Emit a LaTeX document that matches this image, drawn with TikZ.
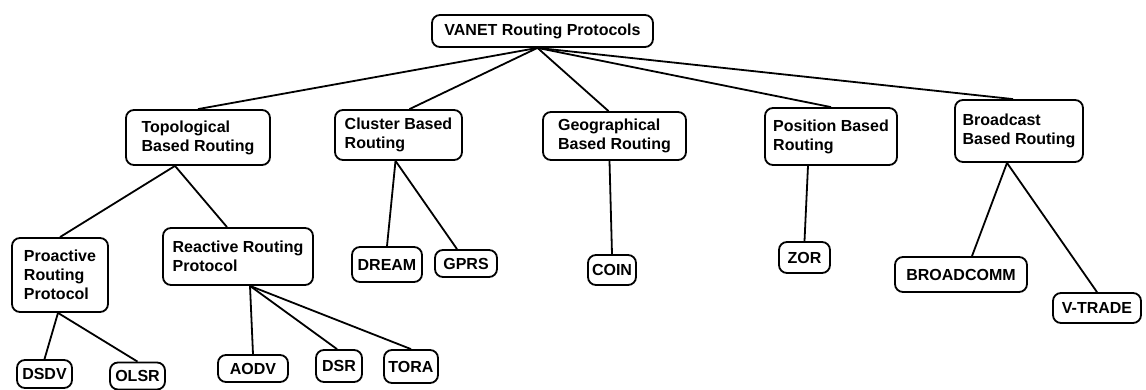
\documentclass[tikz,border=0pt]{standalone}
\usepackage{fontspec}
\setmainfont{Liberation Sans}
\usepackage{tikz}
\usetikzlibrary{positioning}

\tikzset{
    box/.style={draw, rounded corners=8pt, line width=1.8pt, inner sep=2pt,
        align=left, font=\fontsize{16}{19}\selectfont\bfseries},
    link/.style={line width=1.8pt}
}

\begin{document}
\begin{tikzpicture}[x=1pt, y=-1pt]
    \useasboundingbox (0,0) rectangle (1146,390);
    % top level
    \node (root) at (542.5,31) [box, minimum width=221, minimum height=32] {VANET Routing Protocols};
    \node (topo) at (198,137.5) [box, minimum width=144, minimum height=55] {Topological\\Based Routing};
    \node (clus) at (398.5,135) [box, minimum width=127, minimum height=50] {Cluster Based\\Routing};
    \node (geo) at (614.5,136) [box, minimum width=143, minimum height=48] {Geographical\\Based Routing};
    \node (pos) at (831,136.5) [box, minimum width=132, minimum height=57] {Position Based\\Routing};
    \node (bcast) at (1019,131) [box, minimum width=128, minimum height=62] {Broadcast\\Based Routing};
    % second level
    \node (pro) at (60,275) [box, minimum width=96, minimum height=74] {Proactive\\Routing\\Protocol};
    \node (react) at (238,256.5) [box, minimum width=150, minimum height=57] {Reactive Routing\\Protocol};
    \node (dream) at (387,264.5) [box, minimum width=70, minimum height=35] {DREAM};
    \node (gprs) at (466,263.5) [box, minimum width=62, minimum height=27] {GPRS};
    \node (coin) at (612,270) [box, minimum width=48, minimum height=30] {COIN};
    \node (zor) at (804.5,257.5) [box, minimum width=51, minimum height=31] {ZOR};
    \node (bcomm) at (961,274.5) [box, minimum width=132, minimum height=35] {BROADCOMM};
    \node (vtrade) at (1097,308) [box, minimum width=88, minimum height=30] {V-TRADE};
    % leaves
    \node (dsdv) at (44.5,374) [box, minimum width=55, minimum height=28] {DSDV};
    \node (olsr) at (137.5,376) [box, minimum width=55, minimum height=27] {OLSR};
    \node (aodv) at (253,368.5) [box, minimum width=70, minimum height=27] {AODV};
    \node (dsr) at (339,366) [box, minimum width=46, minimum height=32] {DSR};
    \node (tora) at (411,366.5) [box, minimum width=54, minimum height=33] {TORA};

    \draw[link] ([xshift=-5pt]root.south) -- (topo.north);
    \draw[link] ([xshift=-5pt]root.south) -- ([xshift=11pt]clus.north);
    \draw[link] ([xshift=-5pt]root.south) -- ([xshift=-6pt]geo.north);
    \draw[link] ([xshift=-5pt]root.south) -- (pos.north);
    \draw[link] ([xshift=-5pt]root.south) -- ([xshift=-6pt]bcast.north);

    \draw[link] ([xshift=-23pt]topo.south) -- (pro.north);
    \draw[link] ([xshift=-23pt]topo.south) -- ([xshift=-11pt]react.north);
    \draw[link] ([xshift=12pt]react.south) -- (aodv.north);
    \draw[link] ([xshift=12pt]react.south) -- ([xshift=-2pt]dsr.north);
    \draw[link] ([xshift=12pt]react.south) -- (tora.north);
    \draw[link] ([xshift=-2pt]pro.south) -- (dsdv.north);
    \draw[link] ([xshift=-2pt]pro.south) -- (olsr.north);

    \draw[link] ([xshift=-3pt]clus.south) -- (dream.north);
    \draw[link] ([xshift=-3pt]clus.south) -- ([xshift=-9pt]gprs.north);
    \draw[link] ([xshift=-5pt]geo.south) -- (coin.north);
    \draw[link] ([xshift=-23pt]pos.south) -- (zor.north);
    \draw[link] ([xshift=-12pt]bcast.south) -- ([xshift=11pt]bcomm.north);
    \draw[link] ([xshift=-12pt]bcast.south) -- (vtrade.north);
\end{tikzpicture}
\end{document}
